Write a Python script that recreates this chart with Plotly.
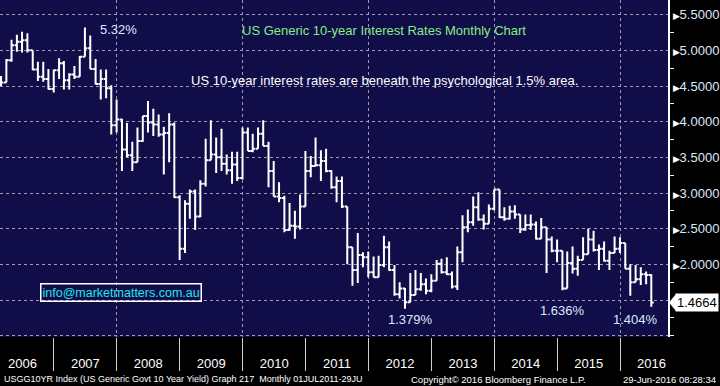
import calendar
import plotly.graph_objects as go

# ---------------- data (monthly bars, Feb 2006 .. Jun 2016) ----------------
start_year, start_month, n_months = 2006, 2, 125
dates = []
_y, _m = start_year, start_month
for _ in range(n_months):
    dates.append(f"{_y:04d}-{_m:02d}-{calendar.monthrange(_y, _m)[1]:02d}")
    _m += 1
    if _m > 12:
        _m, _y = 1, _y + 1

opens = [4.52, 4.55, 4.86, 5.07, 5.12, 5.14, 5.00, 4.73, 4.63, 4.60, 4.46,
         4.72, 4.82, 4.58, 4.66, 4.63, 4.91, 5.03, 4.74, 4.53, 4.60, 4.47, 3.95,
         4.03, 3.61, 3.53, 3.43, 3.73, 4.08, 3.99, 3.96, 3.82, 3.84, 3.96, 2.94,
         2.22, 2.85, 3.02, 2.67, 3.13, 3.46, 3.54, 3.50, 3.41, 3.32, 3.40, 3.21,
         3.85, 3.59, 3.62, 3.83, 3.66, 3.31, 2.95, 2.93, 2.48, 2.54, 2.53, 2.81,
         3.31, 3.38, 3.39, 3.45, 3.31, 3.08, 3.17, 2.81, 2.24, 1.92, 2.13, 2.10,
         1.89, 1.82, 1.99, 2.24, 1.92, 1.58, 1.66, 1.47, 1.57, 1.65, 1.72, 1.63,
         1.77, 2.01, 1.89, 1.86, 1.69, 2.17, 2.52, 2.59, 2.80, 2.63, 2.57, 2.78,
         3.05, 2.66, 2.64, 2.74, 2.70, 2.49, 2.55, 2.56, 2.36, 2.52, 2.35, 2.19,
         2.19, 1.66, 2.02, 1.94, 2.06, 2.14, 2.35, 2.20, 2.22, 2.05, 2.16, 2.22,
         2.30, 1.94, 1.75, 1.79, 1.86, 1.85]
highs = [4.64, 4.88, 5.15, 5.22, 5.26, 5.24, 5.00, 4.84, 4.84, 4.74, 4.73,
         4.89, 4.85, 4.68, 4.78, 4.92, 5.32, 5.21, 4.88, 4.73, 4.73, 4.51, 4.31,
         4.04, 3.98, 3.72, 3.92, 4.08, 4.29, 4.18, 4.10, 3.93, 4.12, 3.99, 2.97,
         2.90, 3.05, 3.05, 3.18, 3.76, 4.02, 3.78, 3.90, 3.54, 3.58, 3.58, 3.92,
         3.92, 3.83, 3.92, 4.02, 3.72, 3.45, 3.15, 2.96, 2.86, 2.75, 2.98, 3.59,
         3.52, 3.78, 3.60, 3.62, 3.32, 3.23, 3.23, 2.81, 2.24, 2.44, 2.17, 2.18,
         2.11, 2.12, 2.40, 2.32, 1.99, 1.75, 1.67, 1.88, 1.92, 1.88, 1.80, 1.86,
         2.06, 2.08, 2.10, 1.90, 2.25, 2.69, 2.77, 2.95, 3.01, 2.70, 2.84, 3.05,
         3.05, 2.80, 2.82, 2.83, 2.70, 2.70, 2.70, 2.60, 2.65, 2.52, 2.39, 2.35,
         2.19, 2.18, 2.25, 2.12, 2.38, 2.50, 2.47, 2.28, 2.32, 2.19, 2.39, 2.38,
         2.30, 2.00, 1.99, 1.96, 1.90, 1.86]
lows = [4.50, 4.55, 4.84, 4.98, 4.97, 4.97, 4.72, 4.57, 4.56, 4.45, 4.41,
        4.60, 4.45, 4.45, 4.60, 4.63, 4.91, 4.74, 4.52, 4.31, 4.33, 3.82, 3.85,
        3.31, 3.50, 3.31, 3.43, 3.72, 3.85, 3.80, 3.79, 3.26, 3.43, 2.93, 2.06,
        2.16, 2.64, 2.48, 2.66, 3.09, 3.46, 3.28, 3.31, 3.26, 3.13, 3.17, 3.19,
        3.59, 3.57, 3.62, 3.66, 3.08, 2.95, 2.87, 2.45, 2.47, 2.36, 2.49, 2.81,
        3.22, 3.38, 3.17, 3.29, 3.06, 2.87, 2.79, 2.00, 1.70, 1.74, 1.96, 1.82,
        1.82, 1.82, 1.96, 1.91, 1.56, 1.52, 1.379, 1.47, 1.57, 1.63, 1.58, 1.61,
        1.77, 1.87, 1.85, 1.66, 1.64, 2.03, 2.45, 2.54, 2.61, 2.49, 2.57, 2.76,
        2.65, 2.61, 2.63, 2.64, 2.44, 2.47, 2.48, 2.35, 2.36, 1.88, 2.17, 2.03,
        1.636, 1.66, 1.87, 1.84, 2.06, 2.14, 2.18, 1.92, 2.04, 1.92, 2.16, 2.16,
        1.94, 1.56, 1.75, 1.71, 1.72, 1.404]
closes = [4.55, 4.86, 5.07, 5.12, 5.14, 5.00, 4.73, 4.63, 4.60, 4.46, 4.72,
          4.82, 4.58, 4.66, 4.63, 4.91, 5.03, 4.74, 4.53, 4.60, 4.47, 3.95, 4.03,
          3.61, 3.53, 3.43, 3.73, 4.08, 3.99, 3.96, 3.82, 3.84, 3.96, 2.94, 2.22,
          2.85, 3.02, 2.67, 3.13, 3.46, 3.54, 3.50, 3.41, 3.32, 3.40, 3.21, 3.85,
          3.59, 3.62, 3.83, 3.66, 3.31, 2.95, 2.93, 2.48, 2.54, 2.53, 2.81, 3.31,
          3.38, 3.39, 3.45, 3.31, 3.08, 3.17, 2.81, 2.24, 1.92, 2.13, 2.10, 1.89,
          1.82, 1.99, 2.24, 1.92, 1.58, 1.66, 1.47, 1.57, 1.65, 1.72, 1.63, 1.77,
          2.01, 1.89, 1.86, 1.69, 2.17, 2.52, 2.59, 2.80, 2.63, 2.57, 2.78, 3.05,
          2.66, 2.64, 2.74, 2.70, 2.49, 2.55, 2.56, 2.36, 2.52, 2.35, 2.19, 2.19,
          1.66, 2.02, 1.94, 2.06, 2.14, 2.35, 2.20, 2.22, 2.05, 2.16, 2.22, 2.30,
          1.94, 1.75, 1.79, 1.86, 1.85, 1.4664]

last_value = 1.4664
y_tick_values = [1.0, 1.5, 2.0, 2.5, 3.0, 3.5, 4.0, 4.5, 5.0, 5.5]
y_minor_values = [1.0, 1.25, 1.75, 2.25, 2.75, 3.25, 3.75, 4.25, 4.75, 5.25]

annotation_texts = {
    "peak": "5.32%",
    "title": "US Generic 10-year Interest Rates Monthly Chart",
    "subtitle": "US 10-year interest rates are beneath the psychological 1.5% area.",
    "info": "info@marketmatters.com.au",
    "low2012": "1.379%",
    "low2015": "1.636%",
    "low2016": "1.404%",
}
footer_left = "USGG10YR Index (US Generic Govt 10 Year Yield) Graph 217  Monthly 01JUL2011-29JU"
footer_mid = "Copyright\u00a9 2016 Bloomberg Finance L.P."
footer_right = "29-Jun-2016 08:28:34"

# ---------------- styling ----------------
FONT = "Liberation Sans, Arial, sans-serif"
BG = "#100d48"
GRID = "#9c9cab"
LABEL = "#dde8ff"
PLOT_W = 668.0
PLOT_H = 337.0

fig = go.Figure()
fig.add_trace(go.Ohlc(
    x=dates, open=opens, high=highs, low=lows, close=closes,
    increasing=dict(line=dict(color="white", width=2)),
    decreasing=dict(line=dict(color="white", width=2)),
    tickwidth=0.5, hoverinfo="skip", showlegend=False,
))
# helper trace on the overlay axis carrying the 2-year vertical grid
fig.add_trace(go.Scatter(x=[], y=[], xaxis="x2", yaxis="y", showlegend=False,
                         hoverinfo="skip"))

ticktext = []
for v in y_tick_values:
    if v < 2.0:
        ticktext.append("")
    else:
        ticktext.append(f"<span style='color:white;font-size:9px'>\u25B6</span>{v:.4f}")

x_range = ["2006-02-22", "2016-10-05"]

fig.update_layout(
    width=720, height=386,
    paper_bgcolor="black", plot_bgcolor=BG,
    margin=dict(l=0, r=52, t=0, b=49, pad=0),
    showlegend=False,
    font=dict(family=FONT, color="white"),
    xaxis=dict(
        type="date", range=x_range,
        tickmode="linear", tick0="2006-01-01", dtick="M12",
        ticklabelmode="period", tickformat="%Y",
        ticks="outside", ticklen=33, tickcolor="#cfcfcf", tickwidth=1,
        tickfont=dict(family=FONT, size=13, color="white"),
        ticklabelstandoff=-19,
        showgrid=False, zeroline=False, showline=False,
        rangeslider=dict(visible=False), fixedrange=True,
    ),
    xaxis2=dict(
        type="date", range=x_range, overlaying="x", anchor="y",
        tickmode="linear", tick0="2008-01-01", dtick="M24",
        showgrid=True, gridcolor=GRID, griddash="3px,3px", gridwidth=1,
        showticklabels=False, ticks="", showline=False, zeroline=False,
        fixedrange=True,
    ),
    yaxis=dict(
        side="right", range=[0.9815, 5.706],
        tickmode="array", tickvals=y_tick_values, ticktext=ticktext,
        ticks="", tickfont=dict(family=FONT, size=13, color=LABEL),
        showgrid=True, gridcolor=GRID, griddash="3px,3px", gridwidth=1,
        showline=True, linecolor="white", linewidth=2,
        zeroline=False, fixedrange=True,
        minor=dict(tickmode="array", tickvals=y_minor_values, ticks="outside",
                   ticklen=4, tickcolor="white", tickwidth=1, showgrid=False),
    ),
)

def px_x(p):
    return p / PLOT_W

def px_y(p):
    return (PLOT_H - p) / PLOT_H

ann = []
ann.append(dict(text=annotation_texts["peak"], x=px_x(118), y=px_y(30),
                font=dict(size=13, color=LABEL)))
ann.append(dict(text=annotation_texts["title"], x=px_x(384), y=px_y(31),
                font=dict(size=13, color="#86ec86")))
ann.append(dict(text=annotation_texts["subtitle"], x=px_x(384), y=px_y(81),
                font=dict(size=13, color="white")))
ann.append(dict(text=annotation_texts["info"], x=px_x(120.5), y=px_y(292.5),
                font=dict(size=12.5, color="#1ee6ea"), bordercolor="white",
                borderwidth=1.5, borderpad=1))
ann.append(dict(text=annotation_texts["low2012"], x=px_x(410), y=px_y(319.5),
                font=dict(size=13, color=LABEL)))
ann.append(dict(text=annotation_texts["low2015"], x=px_x(562), y=px_y(310),
                font=dict(size=13, color=LABEL)))
ann.append(dict(text=annotation_texts["low2016"], x=px_x(635), y=px_y(319.5),
                font=dict(size=13, color=LABEL)))
for a in ann:
    a.update(xref="paper", yref="paper", showarrow=False,
             xanchor="center", yanchor="middle")

# last value box on the axis
ann.append(dict(text=f"{last_value:.4f}", xref="paper", yref="y", x=1,
                y=last_value, xanchor="left", yanchor="middle", xshift=7,
                showarrow=False, bgcolor="white", borderpad=1,
                font=dict(size=13, color="black", family=FONT)))
# footer
ann.append(dict(text=footer_left, xref="paper", yref="paper", x=0, y=0,
                xanchor="left", yanchor="middle", xshift=2, yshift=-42,
                showarrow=False, font=dict(size=9, color="white", family=FONT)))
ann.append(dict(text=footer_mid, xref="paper", yref="paper", x=px_x(498), y=0,
                xanchor="center", yanchor="middle", yshift=-42,
                showarrow=False, font=dict(size=9.5, color="white", family=FONT)))
ann.append(dict(text=footer_right, xref="paper", yref="paper", x=px_x(718), y=0,
                xanchor="right", yanchor="middle", yshift=-42,
                showarrow=False, font=dict(size=9.5, color="white", family=FONT)))
fig.update_layout(annotations=ann)

# arrow of the last-value box
half_h = 8.5 / (PLOT_H / (5.706 - 0.9815))
x_tip, x_base = 1 + px_x(1), 1 + px_x(8)
fig.add_shape(type="path", xref="paper", yref="y",
              path=(f"M {x_tip},{last_value} L {x_base},{last_value + half_h} "
                    f"L {x_base},{last_value - half_h} Z"),
              fillcolor="white", line=dict(width=0))

fig.write_html(
    "out.html",
    config={"displayModeBar": False, "staticPlot": True},
    post_script="document.body.style.margin='0';document.body.style.padding='0';"
                "document.body.style.background='black';",
)
